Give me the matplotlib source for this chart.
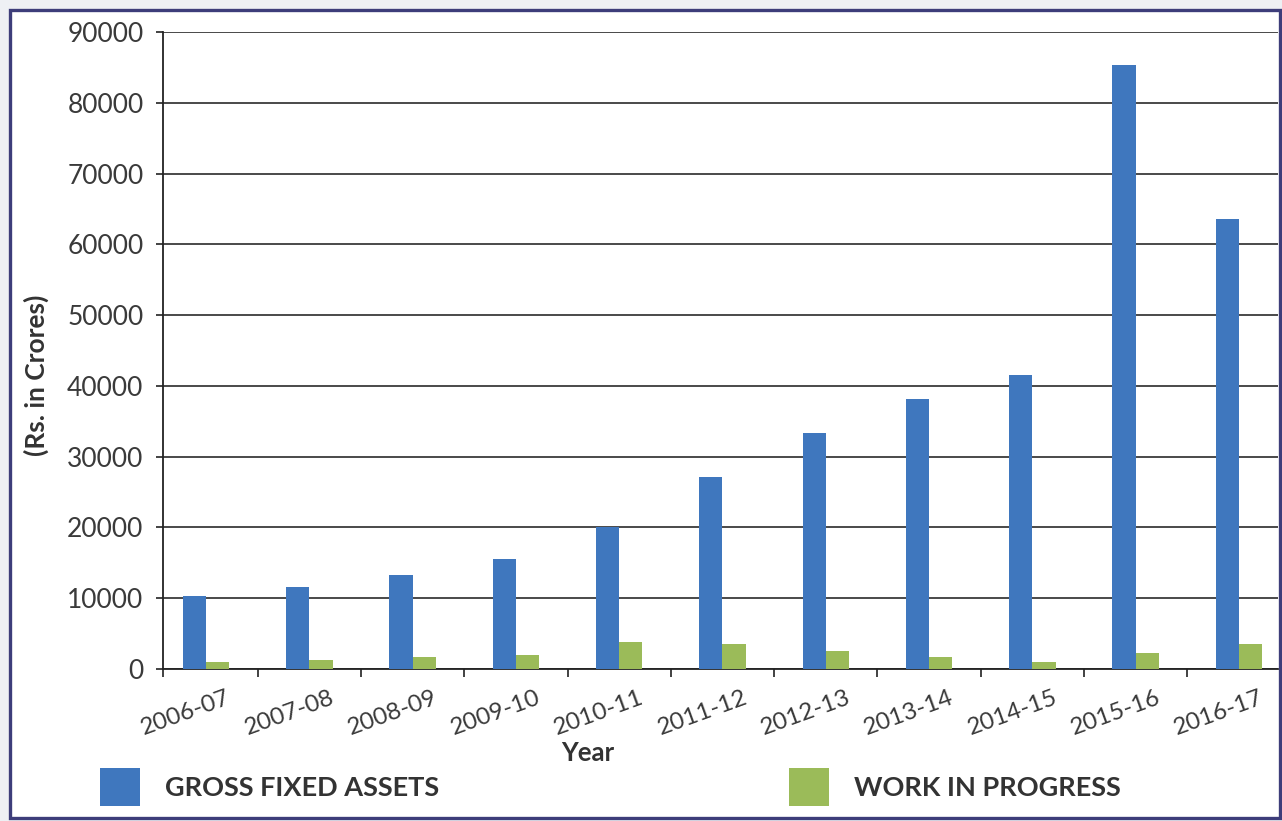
import matplotlib
matplotlib.use("Agg")
import matplotlib.pyplot as plt
import matplotlib.transforms as mtransforms
from matplotlib.patches import Rectangle, Patch
import numpy as np

plt.rcParams['font.family'] = ['Lato', 'DejaVu Sans']

years = ["2006-07", "2007-08", "2008-09", "2009-10", "2010-11", "2011-12",
         "2012-13", "2013-14", "2014-15", "2015-16", "2016-17"]
gross_fixed_assets = [10300, 11600, 13250, 15500, 20100, 27100,
                      33400, 38100, 41600, 85400, 63600]
work_in_progress = [950, 1300, 1750, 1950, 3800, 3550,
                    2550, 1750, 1000, 2250, 3550]
y_ticks = [0, 10000, 20000, 30000, 40000, 50000, 60000, 70000, 80000, 90000]

blue = "#3f77be"
green = "#9bbb59"

W, H = 1282, 821
fig = plt.figure(figsize=(W / 100, H / 100), dpi=100, facecolor="#eef0f4")

# outer frame, kept behind the axes
fig.patches.append(Rectangle((10 / W, 3 / H), 1270 / W, 808 / H,
                             transform=fig.transFigure, facecolor="white",
                             edgecolor="#3d3d7a", linewidth=2.4, zorder=-10))

ax = fig.add_axes([163 / W, 1 - 669 / H, (1278 - 163) / W, (669 - 32) / H])
ax.set_facecolor("none")

x = np.arange(len(years))
bw = 0.225
ax.bar(x - bw / 2, gross_fixed_assets, width=bw, color=blue, zorder=3)
ax.bar(x + bw / 2, work_in_progress, width=bw, color=green, zorder=3)

ax.set_xlim(-0.416, 10.378)
ax.set_ylim(0, 90000)
ax.set_yticks(y_ticks)
ax.yaxis.grid(True, color="#3a3a3a", linewidth=1.3, zorder=1)
ax.set_axisbelow(True)

for side in ("top", "right"):
    ax.spines[side].set_visible(False)
for side in ("left", "bottom"):
    ax.spines[side].set_color("#222222")
    ax.spines[side].set_linewidth(1.3)

ax.tick_params(axis="y", labelsize=19, length=5, width=1.2, pad=9,
               colors="#222222", labelcolor="#3a3a3a")

# labels at the bar pairs, tick marks between them
ax.set_xticks(x)
ax.set_xticklabels(years, rotation=20, fontsize=17.5, color="#3a3a3a")
ax.tick_params(axis="x", which="major", length=0, pad=13)
ax.set_xticks(np.append(x[:-1] + 0.5, -0.416), minor=True)
ax.tick_params(axis="x", which="minor", length=6, width=1.2, colors="#222222")
shift = mtransforms.ScaledTranslation(-20 / 100, 0, fig.dpi_scale_trans)
for lbl in ax.get_xticklabels():
    lbl.set_transform(lbl.get_transform() + shift)

fig.text(588 / W, 1 - 753 / H, "Year", ha="center", va="center",
         fontsize=18.5, fontweight="bold", color="#333333")
fig.text(36 / W, 1 - 375 / H, "(Rs. in Crores)", ha="center", va="center",
         rotation=90, fontsize=19, fontweight="bold", color="#333333")

handles = [Patch(facecolor=blue, label="GROSS FIXED ASSETS"),
           Patch(facecolor=green, label="WORK IN PROGRESS")]
fs = 19.5
fs_px = fs * 100 / 72
fig.legend(handles=handles, loc="upper left", ncol=2, frameon=False,
           bbox_to_anchor=(100 / W, 1 - 768 / H), borderaxespad=0, borderpad=0,
           prop={"size": fs, "weight": "bold"}, labelcolor="#333333",
           handlelength=40 / fs_px, handleheight=(38 / fs_px - 0.245) / 0.65,
           handletextpad=25 / fs_px, columnspacing=350 / fs_px)

fig.savefig("out.png", dpi=100, facecolor=fig.get_facecolor())
